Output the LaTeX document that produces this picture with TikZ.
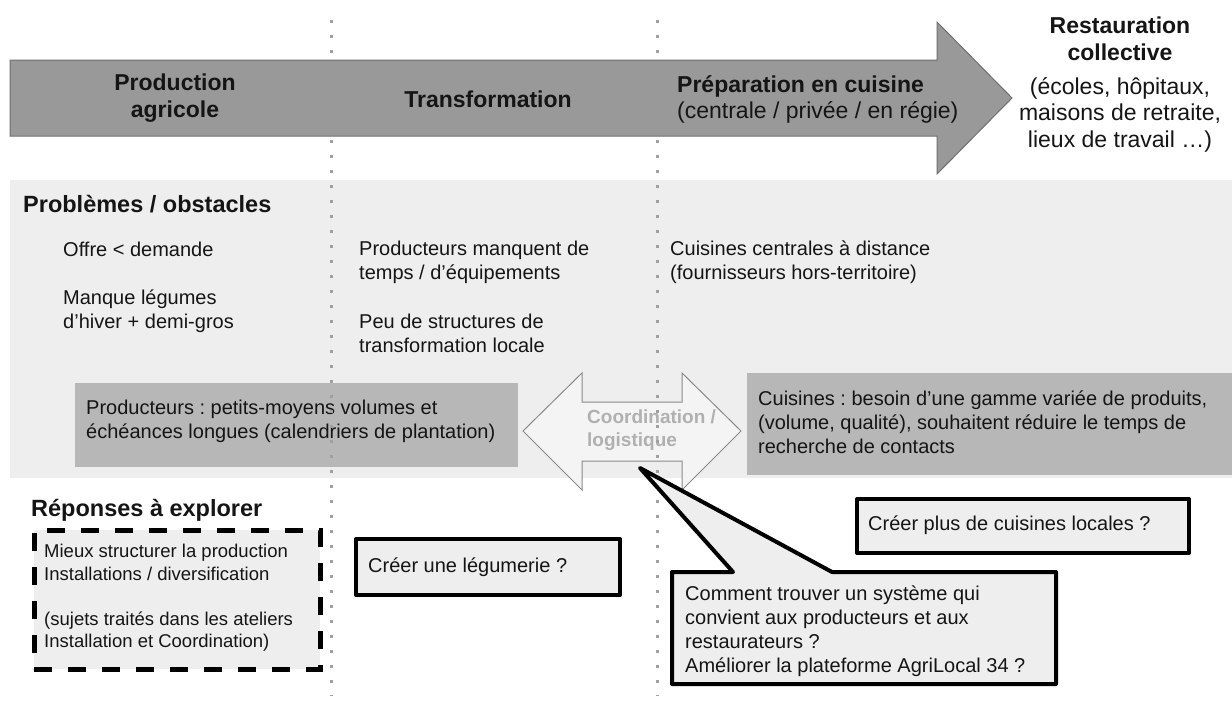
\documentclass[tikz,border=0pt]{standalone}
\usepackage{fontspec}
\setmainfont{Liberation Sans}
\frenchspacing
\definecolor{panelgray}{HTML}{EEEEEE}
\definecolor{boxgray}{HTML}{B7B7B7}
\definecolor{arrowgray}{HTML}{999999}
\definecolor{arrowedge}{HTML}{6F6F6F}
\definecolor{dotgray}{HTML}{A0A0A0}
\definecolor{coordtext}{HTML}{B0B0B0}
\definecolor{coordfill}{HTML}{F4F4F4}
\definecolor{coordedge}{HTML}{8A8A8A}
\definecolor{answerfill}{HTML}{EEEEEE}
\definecolor{ink}{HTML}{151515}
\tikzset{
  txt/.style={inner sep=0pt, anchor=north west, align=left, text=ink},
  ctxt/.style={inner sep=0pt, anchor=north, align=center, text=ink},
  big/.style={font=\fontsize{23}{26.5}\selectfont},
  bigb/.style={font=\fontsize{23}{26.5}\selectfont\bfseries},
  titleb/.style={font=\fontsize{23.5}{27}\selectfont\bfseries},
  body/.style={font=\fontsize{20}{24}\selectfont},
  small/.style={font=\fontsize{18.5}{22.5}\selectfont},
  coordlbl/.style={font=\fontsize{19}{23}\selectfont\bfseries, text=coordtext, inner sep=0pt, anchor=north west, align=left},
  areabox/.style={fill=panelgray, draw=none, inner sep=0pt, outer sep=0pt, anchor=north west},
  probox/.style={fill=boxgray, draw=none, inner sep=0pt, outer sep=0pt, anchor=north west},
  answerbox/.style={fill=answerfill, draw=black, line width=4pt, line join=round, inner sep=0pt, anchor=north west},
  dashbox/.style={fill=answerfill, draw=black, line width=4.5pt, dash pattern=on 18pt off 16pt, inner sep=0pt, anchor=north west},
  sepline/.style={draw=dotgray, line width=3pt, dash pattern=on 3pt off 12pt},
  bigarrow/.style={fill=arrowgray, draw=arrowedge, line width=1pt, line join=miter},
  coordarrow/.style={fill=coordfill, draw=coordedge, line width=1pt, line join=miter},
  calloutline/.style={fill=answerfill, draw=black, line width=4pt, line join=round},
}
\begin{document}
\begin{tikzpicture}[x=1pt,y=-1pt]
\useasboundingbox (0,0) rectangle (1232,704);

% ---- problems panel ----
\node[areabox, minimum width=1222pt, minimum height=298pt] (panel) at (10,180) {};
\node[probox, minimum width=443pt, minimum height=84pt] (prodbox) at (75,383) {};
\node[probox, minimum width=485pt, minimum height=102pt] (cuisbox) at (747,373) {};

\draw[coordarrow] (523,431) -- (582,373) -- (582,402) -- (682,402) -- (682,373)
  -- (741,431) -- (682,490) -- (682,461) -- (582,461) -- (582,490) -- cycle;

\node[txt, titleb] (probtitle) at (23,195) {Problèmes / obstacles};
\node[txt, body] (offre) at (63,242) {Offre < demande};
\node[txt, body] (manque) at (63,290) {Manque légumes\\d’hiver + demi-gros};
\node[txt, body] (temps) at (359,241) {Producteurs manquent de\\temps / d’équipements};
\node[txt, body] (peu) at (359,314) {Peu de structures de\\transformation locale};
\node[txt, body] (central) at (670,241) {Cuisines centrales à distance\\(fournisseurs hors-territoire)};
\node[txt, body] (prodtxt) at (86,400) {Producteurs : petits-moyens volumes et\\échéances longues (calendriers de plantation)};
\node[txt, body] (cuistxt) at (758,391) {Cuisines : besoin d’une gamme variée de produits,\\(volume, qualité), souhaitent réduire le temps de\\recherche de contacts};
\node[coordlbl] (coord) at (587,410) {Coordination /\\logistique};

% ---- dotted separators ----
\coordinate (s1top) at (331,20);
\coordinate (s1bot) at (331,696);
\coordinate (s2top) at (657,20);
\coordinate (s2bot) at (657,696);
\draw[sepline] (s1top) -- (s1bot);
\draw[sepline] (s2top) -- (s2bot);

% ---- value chain arrow ----
\draw[bigarrow] (10,60) -- (937,60) -- (937,22) -- (1012,98) -- (937,174)
  -- (937,136) -- (10,136) -- cycle;
\node[ctxt, bigb] (prodag) at (175,74) {Production\\agricole};
\node[ctxt, bigb] (transf) at (488,91) {Transformation};
\node[txt, big] (prep) at (677,75) {\textbf{Préparation en cuisine}\\(centrale / privée / en régie)};
\node[ctxt, bigb] (resto) at (1120,17) {Restauration\\collective};
\node[ctxt, big] (restosub) at (1120,77) {(écoles, hôpitaux,\\maisons de retraite,\\lieux de travail …)};

% ---- answers ----
\node[txt, titleb] (reptitle) at (31,499) {Réponses à explorer};
\node[dashbox, minimum width=286pt, minimum height=139pt] (dbox) at (32,528) {};
\node[txt, small] (dtxt) at (44,544) {Mieux structurer la production\\Installations / diversification\\[22.5pt](sujets traités dans les ateliers\\Installation et Coordination)};

\node[answerbox, minimum width=264pt, minimum height=56pt] (legbox) at (354,537) {};
\node[txt, body] (legtxt) at (368,558) {Créer une légumerie ?};

\node[answerbox, minimum width=332pt, minimum height=54pt] (locbox) at (855,497) {};
\node[txt, body] (loctxt) at (868,516) {Créer plus de cuisines locales ?};

\node[inner sep=0pt, outer sep=0pt, anchor=north west, minimum width=384pt, minimum height=112pt] (callbox) at (672,572) {};
\coordinate (tip) at (640,468);
\coordinate (tailA) at (733,572);
\coordinate (tailB) at (832,572);
\draw[calloutline] (callbox.north west) -- (tailA) -- (tip) -- (tailB)
  -- (callbox.north east) -- (callbox.south east) -- (callbox.south west) -- cycle;
\node[txt, body] (calltxt) at (685,586) {Comment trouver un système qui\\convient aux producteurs et aux\\restaurateurs ?\\Améliorer la plateforme AgriLocal 34 ?};
\end{tikzpicture}
\end{document}
